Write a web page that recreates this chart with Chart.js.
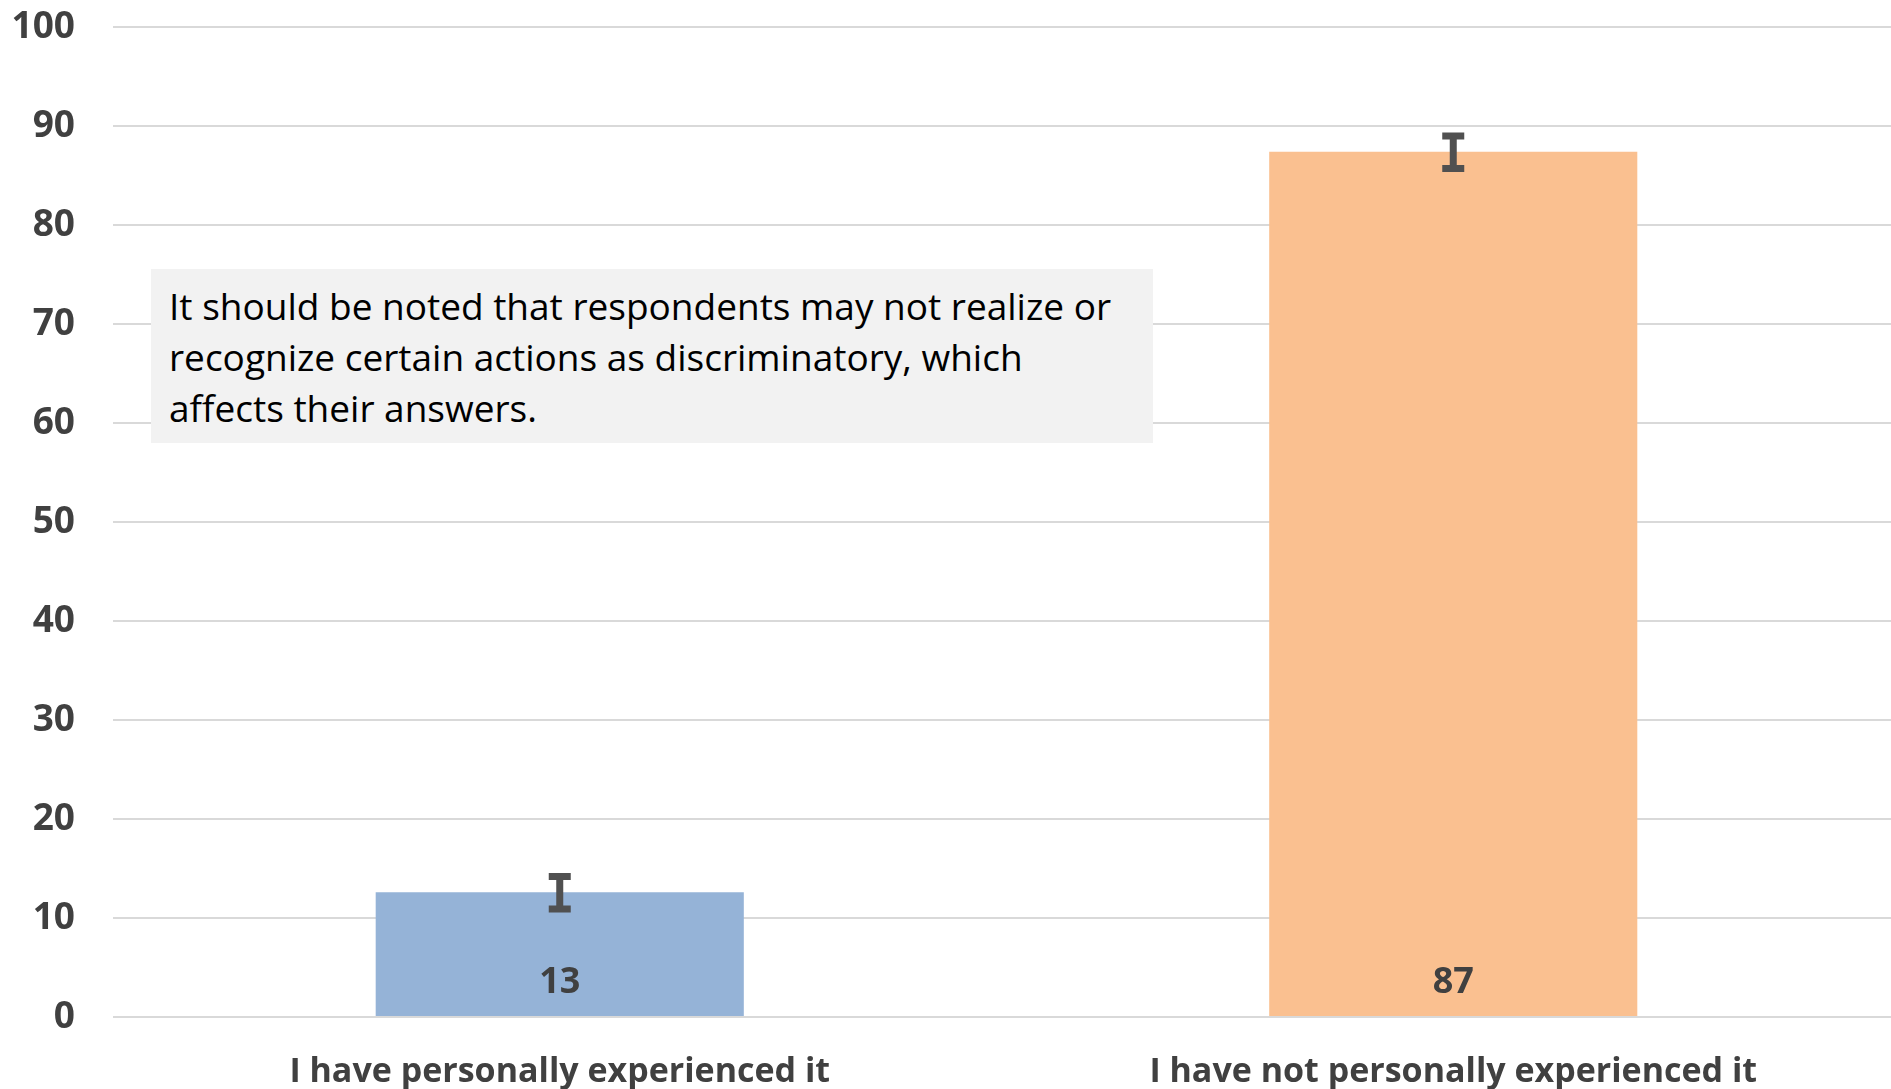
<!DOCTYPE html>
<html>
<head>
<meta charset="utf-8">
<script src="https://cdn.jsdelivr.net/npm/chart.js@4"></script>
<style>
    body {
        margin: 0;
        background: #ffffff;
        overflow: hidden;
    }
    #wrap {
        position: relative;
        width: 1900px;
        height: 1089px;
    }
    #note {
        position: absolute;
        left: 151px;
        top: 269px;
        width: 984px;
        height: 163px;
        padding: 11px 0 0 18px;
        background: #f2f2f2;
        font-family: "Open Sans", sans-serif;
        font-size: 37px;
        line-height: 51px;
        color: #000000;
        white-space: nowrap;
        overflow: hidden;
    }
</style>
</head>
<body>
<div id="wrap">
    <canvas id="experienceChart"></canvas>
    <div id="note">It should be noted that respondents may not realize or<br>recognize certain actions as discriminatory, which<br>affects their answers.</div>
</div>
<script>
// Data
const categories = ["I have personally experienced it", "I have not personally experienced it"];
const values = [12.6, 87.4];
const errLow = [10.9, 85.7];
const errHigh = [14.2, 89.0];
const barColors = ["#95b3d7", "#fac090"];
const yTicks = [0, 10, 20, 30, 40, 50, 60, 70, 80, 90, 100];

// Error bars + value labels
const extrasPlugin = {
    id: "extras",
    afterDatasetsDraw(chart) {
        const ctx = chart.ctx;
        const meta = chart.getDatasetMeta(0);
        const y = chart.scales.y;
        ctx.save();
        meta.data.forEach((bar, i) => {
            const yLo = y.getPixelForValue(errLow[i]);
            const yHi = y.getPixelForValue(errHigh[i]);
            ctx.strokeStyle = "#505050";
            ctx.lineWidth = 7;
            ctx.beginPath();
            ctx.moveTo(bar.x, yLo);
            ctx.lineTo(bar.x, yHi);
            ctx.moveTo(bar.x - 11, yLo);
            ctx.lineTo(bar.x + 11, yLo);
            ctx.moveTo(bar.x - 11, yHi);
            ctx.lineTo(bar.x + 11, yHi);
            ctx.stroke();

            ctx.fillStyle = "#404040";
            ctx.font = "bold 36px 'Open Sans'";
            ctx.textAlign = "center";
            ctx.textBaseline = "middle";
            ctx.fillText(String(Math.round(values[i])), bar.x, bar.base - 33);
        });
        ctx.restore();
    },
};

const chart = new Chart(document.getElementById("experienceChart"), {
    type: "bar",
    data: {
        labels: categories,
        datasets: [
            {
                data: values,
                backgroundColor: barColors,
                borderWidth: 0,
                categoryPercentage: 1,
                barPercentage: 0.412,
            },
        ],
    },
    options: {
        responsive: true,
        maintainAspectRatio: false,
        animation: false,
        layout: {
            padding: { top: 27, right: 0, bottom: 0, left: 0 },
        },
        plugins: {
            legend: { display: false },
            tooltip: { enabled: false },
        },
        scales: {
            x: {
                grid: { display: false, drawTicks: false },
                border: { display: false },
                ticks: {
                    color: "#404040",
                    padding: 35,
                    font: { family: "Open Sans", size: 34, weight: "bold" },
                },
                afterFit(scale) {
                    scale.height = 72;
                },
            },
            y: {
                min: 0,
                max: 100,
                afterBuildTicks(scale) {
                    scale.ticks = yTicks.map((v) => ({ value: v }));
                },
                grid: { color: "#d9d9d9", lineWidth: 2, drawTicks: false },
                border: { display: false },
                ticks: {
                    color: "#404040",
                    padding: 38,
                    font: { family: "Open Sans", size: 37, weight: "bold" },
                },
                afterFit(scale) {
                    scale.width = 113;
                    scale.paddingTop = 0;
                    scale.paddingBottom = 0;
                },
            },
        },
    },
    plugins: [extrasPlugin],
});
</script>
</body>
</html>
